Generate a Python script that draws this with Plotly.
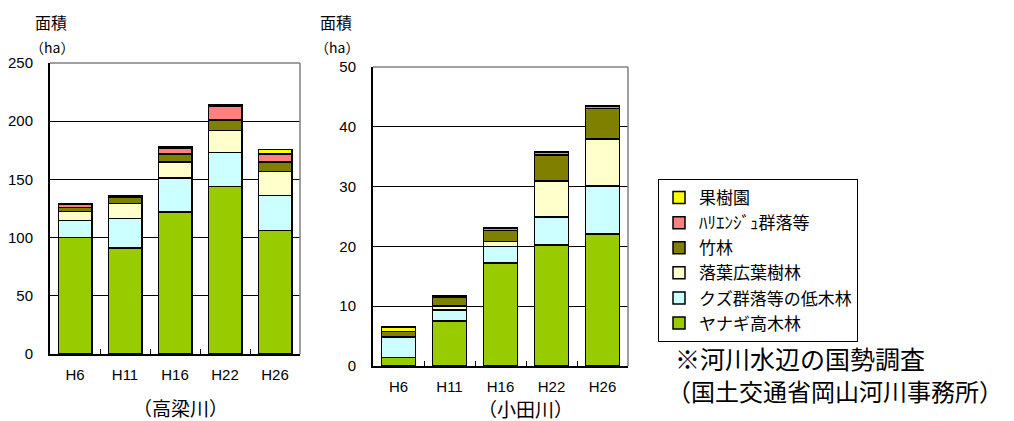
import plotly.graph_objects as go

years = ["H6", "H11", "H16", "H22", "H26"]
series_names = ["ヤナギ高木林", "クズ群落等の低木林", "落葉広葉樹林", "竹林", "ﾊﾘｴﾝｼﾞｭ群落等", "果樹園"]
colors = ["#99CC00", "#CCFFFF", "#FFFFCC", "#808000", "#FF8080", "#FFFF00"]

# 高梁川 (ha)
taka_yanagi = [100, 91, 122, 144, 106]
taka_kuzu = [14.5, 25.5, 29, 29, 30]
taka_rakuyo = [8, 13, 14, 19, 21]
taka_take = [3.5, 5.5, 7, 9, 8]
taka_harienju = [2.5, 1, 5, 12, 7]
taka_kaju = [0.5, 0, 1, 1, 3.5]

# 小田川 (ha)
oda_yanagi = [1.4, 7.5, 17.2, 20.2, 22.1]
oda_kuzu = [3.45, 1.9, 2.8, 4.7, 8.0]
oda_rakuyo = [0, 0.6, 0.8, 6.0, 7.9]
oda_take = [0.95, 1.5, 1.9, 4.4, 5.1]
oda_harienju = [0, 0.3, 0.4, 0.5, 0.4]
oda_kaju = [0.7, 0, 0, 0, 0]

taka = [taka_yanagi, taka_kuzu, taka_rakuyo, taka_take, taka_harienju, taka_kaju]
oda = [oda_yanagi, oda_kuzu, oda_rakuyo, oda_take, oda_harienju, oda_kaju]

W, H = 1014, 421
def px(x):
    return x / W
def py(y):
    return 1 - y / H

fig = go.Figure()
for i, name in enumerate(series_names):
    fig.add_trace(go.Bar(x=years, y=taka[i], name=name, marker=dict(color=colors[i], line=dict(color="black", width=1.5)),
                         legendgroup=name, showlegend=True, xaxis="x", yaxis="y"))
    fig.add_trace(go.Bar(x=years, y=oda[i], name=name, marker=dict(color=colors[i], line=dict(color="black", width=1.5)),
                         legendgroup=name, showlegend=False, xaxis="x2", yaxis="y2"))

num_font = dict(family="Liberation Sans, Arial", size=15, color="black")
cjk = "Noto Sans CJK JP"

axis_common_x = dict(type="category", showline=True, linecolor="black", linewidth=2, showgrid=False,
                     ticks="inside", tickson="boundaries", ticklen=5, tickcolor="black", tickfont=num_font,
                     automargin=False, fixedrange=True, ticklabelstandoff=6)
axis_common_y = dict(showline=True, linecolor="black", linewidth=2, showgrid=True, gridcolor="black", gridwidth=1,
                     ticks="", tickfont=num_font, automargin=False, zeroline=False, ticklabelstandoff=12)

fig.update_layout(
    width=W, height=H, margin=dict(l=0, r=0, t=0, b=0),
    paper_bgcolor="white", plot_bgcolor="white",
    barmode="stack", bargap=0.33,
    xaxis=dict(domain=[px(50), px(300)], anchor="y", **axis_common_x),
    yaxis=dict(domain=[py(354), py(63)], anchor="x", range=[0, 250], dtick=50, **axis_common_y),
    xaxis2=dict(domain=[px(373), px(628)], anchor="y2", **axis_common_x),
    yaxis2=dict(domain=[py(366), py(67)], anchor="x2", range=[0, 50], dtick=10, **axis_common_y),
    legend=dict(x=px(658), y=py(179), xanchor="left", yanchor="top", traceorder="reversed",
                bordercolor="black", borderwidth=1, bgcolor="white",
                font=dict(family=cjk, size=17, color="black"), tracegroupgap=0),
    showlegend=True,
)

# gray top/right border of plot areas
for xr, yr in [("x domain", "y domain"), ("x2 domain", "y2 domain")]:
    fig.add_shape(type="line", xref=xr, yref=yr, x0=0, x1=1, y0=1, y1=1, line=dict(color="#808080", width=1.5))
    fig.add_shape(type="line", xref=xr, yref=yr, x0=1, x1=1, y0=0, y1=1, line=dict(color="#808080", width=1.5))

ann_font = dict(family=cjk, size=16, color="black")
texts = [
    ("面積", 34, 22, ann_font, "left"),
    ("（ha）", 29, 47, dict(family=cjk, size=14, color="black"), "left"),
    ("面積", 319, 22, ann_font, "left"),
    ("（ha）", 314, 47, dict(family=cjk, size=14, color="black"), "left"),
    ("（高梁川）", 180, 407, dict(family=cjk, size=19, color="black"), "center"),
    ("（小田川）", 525, 408.5, dict(family=cjk, size=19, color="black"), "center"),
    ("※河川水辺の国勢調査", 674, 358, dict(family=cjk, size=25, color="black"), "left"),
    ("（国土交通省岡山河川事務所）", 666, 390, dict(family=cjk, size=24, color="black"), "left"),
]
for t, x, y, f, anc in texts:
    fig.add_annotation(text=t, x=px(x), y=py(y), xref="paper", yref="paper", showarrow=False,
                       xanchor=anc, yanchor="middle", font=f, borderpad=0)

fig.write_html("out.html", config={"displayModeBar": False},
               post_script="document.body.style.margin='0px';document.body.style.overflow='hidden';")
